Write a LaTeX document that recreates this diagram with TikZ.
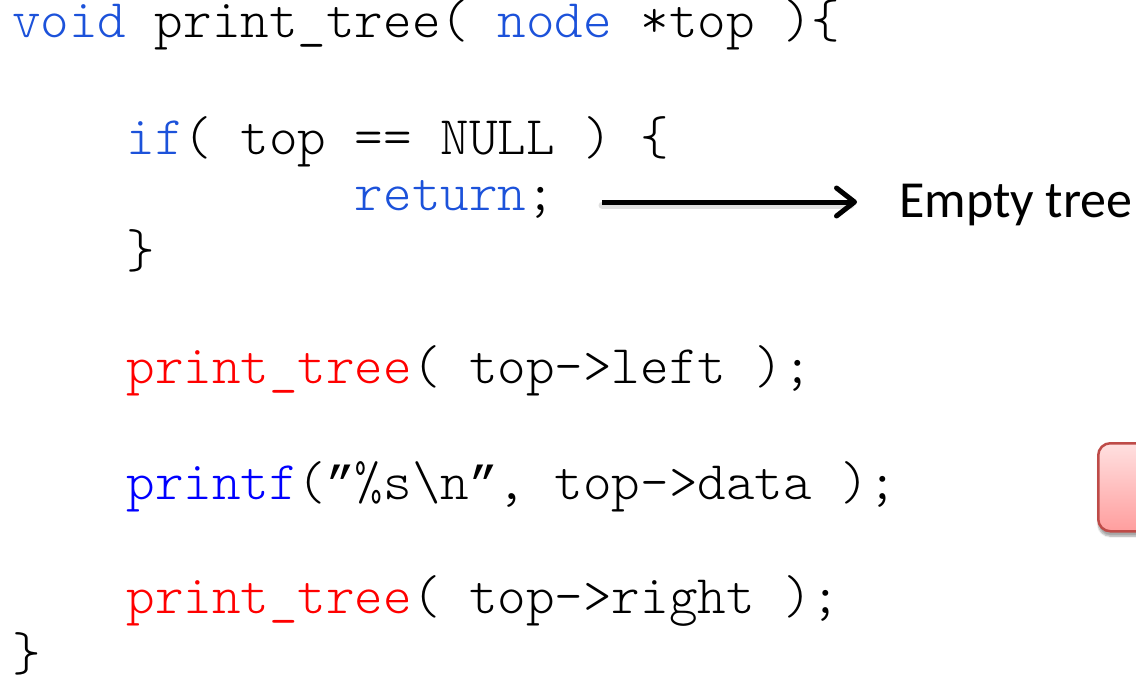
\documentclass[tikz,border=0pt]{standalone}
\usepackage{fontspec}
\newfontfamily\codefont{Latin Modern Mono Light}
\newfontfamily\quotefont[Scale=0.875]{Liberation Mono}
\newfontfamily\labelfont{Carlito}
\usetikzlibrary{arrows.meta,shadows.blur}
\definecolor{kwblue}{RGB}{28,82,218}
\definecolor{fnblue}{RGB}{0,0,255}
\definecolor{fnred}{RGB}{255,0,0}
\definecolor{boxedge}{RGB}{190,75,72}
\definecolor{boxtop}{RGB}{255,224,224}
\definecolor{boxbot}{RGB}{255,158,158}
% slanted closing double quote, one code column wide
\newcommand\codequote{\makebox[0.525em][c]{\quotefont ”}}
\begin{document}
\begin{tikzpicture}[x=1pt,y=-1pt,
  code/.style={anchor=base west, inner sep=0pt, font=\codefont\fontsize{54.4}{56}\selectfont},
  note/.style={anchor=base west, inner sep=0pt, font=\labelfont\fontsize{52}{56}\selectfont},
  pointer/.style={line width=5pt, -{Straight Barb[length=18pt,width=28pt,round]}},
  pointershadow/.style={line width=7pt, black, opacity=0.12, line cap=round},
  callout/.style={draw=boxedge, line width=2.5pt, rounded corners=12pt,
    top color=boxtop, bottom color=boxbot, minimum width=130pt, minimum height=88pt,
    anchor=north west, inner sep=0pt,
    blur shadow={shadow xshift=0pt, shadow yshift=-5pt, shadow blur steps=6, shadow opacity=35}}
]
\useasboundingbox (0,0) rectangle (1136,677);
\clip (0,0) rectangle (1136,677);
\def\cw{28.56}
% source listing, one node per line (column n starts at 12 + n*\cw)
\node[code] (l1) at (12,38) {\textcolor{kwblue}{void} print\_tree( \textcolor{kwblue}{node} *top )\{};
\node[code] (l2) at ({12+4*\cw},154) {\textcolor{kwblue}{if}( top == NULL ) \{};
\node[code] (l3) at ({12+12*\cw},210) {\textcolor{kwblue}{return};};
\node[code] (l4) at ({12+4*\cw},267) {\}};
\node[code] (l5) at ({12+4*\cw},383) {\textcolor{fnred}{print\_tree}( top->left );};
\node[code] (l6) at ({12+4*\cw},499) {\textcolor{fnblue}{printf}(\codequote\%s\textbackslash n\codequote, top->data );};
\node[code] (l7) at ({12+4*\cw},613) {\textcolor{fnred}{print\_tree}( top->right );};
\node[code] (l8) at (12,670) {\}};
% annotation of the base case
\node[note] (empty) at (899,217) {Empty tree};
\coordinate (a1) at (602,202);
\coordinate (a2) at (857,202);
\draw[pointershadow] ([yshift=-3pt]a1) -- ([yshift=-3pt,xshift=-6pt]a2);
\draw[pointer] (a1) -- (a2);
% callout box running off the right edge
\node[callout] (bx) at (1097,442) {};
\end{tikzpicture}
\end{document}
